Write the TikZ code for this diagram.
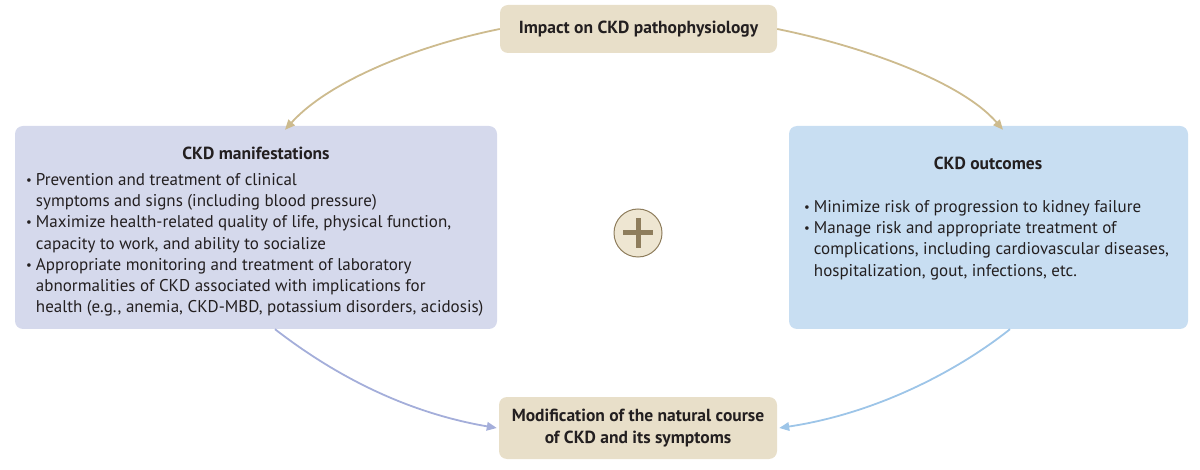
\documentclass[tikz,border=0pt]{standalone}
\usepackage{fontspec}
\setmainfont{PT Sans}
\usetikzlibrary{arrows.meta}
\definecolor{tanfill}{HTML}{E8DFC9}
\definecolor{lavfill}{HTML}{D5D9EC}
\definecolor{bluefill}{HTML}{C8DEF2}
\definecolor{tanline}{HTML}{CDBB8E}
\definecolor{lavline}{HTML}{A4AEDA}
\definecolor{blueline}{HTML}{9DC5E8}
\definecolor{plusfill}{HTML}{EEE6D2}
\definecolor{plusdark}{HTML}{8E7D5C}
\definecolor{txt}{HTML}{231F20}
\newcommand{\bl}{\raisebox{0.12ex}{\scalebox{0.75}{\textbullet}}}
\begin{document}
\begin{tikzpicture}[x=1pt,y=-1pt,
  box/.style={rounded corners=8pt, inner sep=0pt, draw=none},
  ttl/.style={font=\fontsize{17.5}{21.3}\selectfont\bfseries, text=txt, align=center, inner sep=0pt},
  body/.style={font=\fontsize{17}{21.3}\selectfont, text=txt, align=left, inner sep=0pt, anchor=north west},
  conn/.style={line width=1.8pt, -{Triangle[length=10pt,width=8.5pt]}}
]
\useasboundingbox (0,0) rectangle (1200,470);
\node[box, fill=tanfill, minimum width=277pt, minimum height=48pt] (top) at (638.5,29) {};
\node[ttl] (toptxt) at (638.5,29) {Impact on CKD pathophysiology};
\node[box, fill=lavfill, minimum width=482pt, minimum height=203pt] (left) at (256,227.5) {};
\node[box, fill=bluefill, minimum width=399pt, minimum height=203pt] (right) at (988.5,227.5) {};
\node[box, fill=tanfill, minimum width=278pt, minimum height=62pt] (bot) at (638,428) {};
\node[ttl] (bottxt) at (638,428) {Modification of the natural course\\of CKD and its symptoms};

\node[ttl] (lefttitle) at (256,153) {CKD manifestations};
\node[body] (leftlist) at (26,170) {\begin{tabular}{@{}l@{\hspace{4pt}}l@{}}
\bl & Prevention and treatment of clinical\\
 & symptoms and signs (including blood pressure)\\
\bl & Maximize health-related quality of life, physical function,\\
 & capacity to work, and ability to socialize\\
\bl & Appropriate monitoring and treatment of laboratory\\
 & abnormalities of CKD associated with implications for\\
 & health (e.g., anemia, CKD-MBD, potassium disorders, acidosis)
\end{tabular}};

\node[ttl] (righttitle) at (988,163) {CKD outcomes};
\node[body] (rightlist) at (804,197) {\begin{tabular}{@{}l@{\hspace{4pt}}l@{}}
\bl & Minimize risk of progression to kidney failure\\
\bl & Manage risk and appropriate treatment of\\
 & complications, including cardiovascular diseases,\\
 & hospitalization, gout, infections, etc.
\end{tabular}};

\node[circle, minimum size=48pt, fill=plusfill, draw=plusdark, line width=1pt, inner sep=0pt] (plus) at (638,233) {};
\draw[plusdark, line width=5pt] ([xshift=-15pt]plus.center) -- ([xshift=15pt]plus.center);
\draw[plusdark, line width=5pt] ([yshift=-15pt]plus.center) -- ([yshift=15pt]plus.center);

\draw[conn, tanline] (top.west) .. controls (420,45) and (330,80) .. ([xshift=29pt,yshift=-4pt]left.north);
\draw[conn, tanline] (top.east) .. controls (857,45) and (960,80) .. ([xshift=14.5pt,yshift=-4pt]right.north);
\draw[conn, lavline] ([xshift=19pt]left.south) .. controls (325,368) and (397,411) .. ([xshift=-2pt]bot.west);
\draw[conn, blueline] ([xshift=21.5pt]right.south) .. controls (960,369) and (879,413) .. ([xshift=2pt]bot.east);
\end{tikzpicture}
\end{document}
